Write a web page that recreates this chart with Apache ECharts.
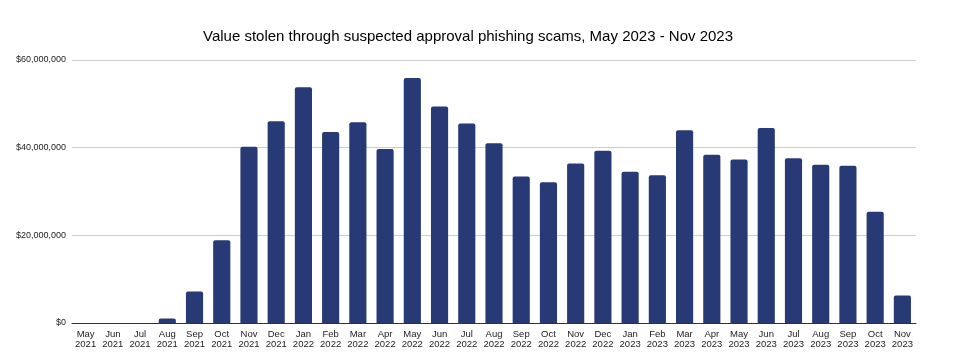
<!DOCTYPE html>
<html>
<head>
<meta charset="utf-8">
<script src="https://cdn.jsdelivr.net/npm/echarts@6/dist/echarts.min.js"></script>
<style>html,body{margin:0;padding:0;background:#fff}#c{width:962px;height:352px}</style>
</head>
<body>
<div id="c"></div>
<script>
const titleText = 'Value stolen through suspected approval phishing scams, May 2023 - Nov 2023';
const months = ['May','Jun','Jul','Aug','Sep','Oct','Nov','Dec',
  'Jan','Feb','Mar','Apr','May','Jun','Jul','Aug','Sep','Oct','Nov','Dec',
  'Jan','Feb','Mar','Apr','May','Jun','Jul','Aug','Sep','Oct','Nov'];
const years = ['2021','2021','2021','2021','2021','2021','2021','2021',
  '2022','2022','2022','2022','2022','2022','2022','2022','2022','2022','2022','2022',
  '2023','2023','2023','2023','2023','2023','2023','2023','2023','2023','2023'];
const valueStolen = [0, 0, 0, 1.0e6, 7.2e6, 18.9e6, 40.2e6, 46.0e6,
  53.8e6, 43.6e6, 45.8e6, 39.7e6, 55.9e6, 49.4e6, 45.5e6, 41.0e6, 33.4e6, 32.1e6, 36.4e6, 39.3e6,
  34.5e6, 33.7e6, 44.0e6, 38.4e6, 37.3e6, 44.5e6, 37.6e6, 36.1e6, 35.9e6, 25.4e6, 6.3e6];
const yTicks = [0, 20000000, 40000000, 60000000];

const categories = months.map((m, i) => m + '\n' + years[i]);
const chart = echarts.init(document.getElementById('c'), null, {renderer: 'canvas'});
chart.setOption({
  animation: false,
  backgroundColor: '#ffffff',
  title: {
    text: titleText,
    left: 198, top: 24,
    textStyle: {fontFamily: 'Liberation Sans, Arial, sans-serif', fontSize: 15, fontWeight: 'normal', color: '#000'}
  },
  grid: {left: 72, right: 46, top: 60, bottom: 29},
  xAxis: {
    type: 'category',
    data: categories,
    axisTick: {show: false},
    axisLine: {lineStyle: {color: '#333', width: 1}},
    axisLabel: {
      interval: 0, margin: 6,
      fontFamily: 'Liberation Sans, Arial, sans-serif', fontSize: 9.5, lineHeight: 10.5, color: '#222'
    }
  },
  yAxis: {
    type: 'value',
    min: 0, max: yTicks[yTicks.length - 1], interval: yTicks[1] - yTicks[0],
    axisLine: {show: false},
    axisTick: {show: false},
    splitLine: {lineStyle: {color: '#cccccc', width: 1}},
    axisLabel: {
      margin: 6,
      fontFamily: 'Liberation Sans, Arial, sans-serif', fontSize: 9, color: '#222',
      formatter: v => '$' + v.toLocaleString('en-US')
    }
  },
  series: [{
    type: 'bar',
    data: valueStolen,
    barCategoryGap: '37%',
    itemStyle: {color: '#283a75', borderRadius: [2, 2, 0, 0]}
  }]
});
</script>
</body>
</html>
